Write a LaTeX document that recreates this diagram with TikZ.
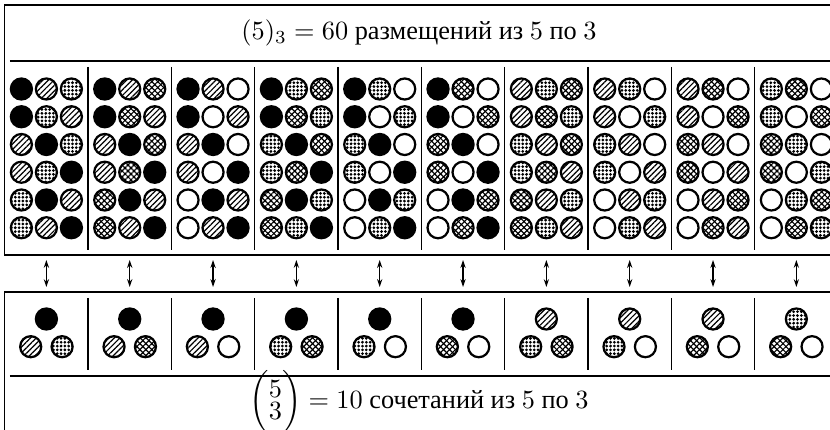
\documentclass[tikz,border=0pt]{standalone}
\usepackage{amsmath}
\usepackage{fontspec}
\setmainfont{Liberation Serif}
\usetikzlibrary{patterns.meta,arrows.meta}

\tikzset{
  ball/.style={draw, line width=0.85pt},
  blk/.style={ball, fill=black},
  hat/.style={ball, pattern={Lines[angle=45, distance=1.5pt, line width=0.45pt]}},
  pnt/.style={ball, pattern={Dots[distance=1.45pt, radius=0.58pt]}},
  chk/.style={ball, pattern={Lines[angle=45, distance=1.6pt, line width=0.45pt]},
    postaction={pattern={Lines[angle=-45, distance=1.6pt, line width=0.45pt]}}},
  wht/.style={ball, fill=white},
  frame/.style={line width=0.5pt},
  sep/.style={line width=0.45pt},
  pair/.style={line width=0.45pt, {Stealth[length=3pt, width=2pt]}-{Stealth[length=3pt, width=2pt]}},
}

\begin{document}
\begin{tikzpicture}[x=0.38pt, y=-0.38pt]
    \useasboundingbox (0, 0) rectangle (830, 430);
    \clip (0, 0) rectangle (830, 430);

    % arrangements
    \draw[frame] (4.5, 5) rectangle (845, 255);
    \node (perms) at (419, 33) {$(5)_3 = 60$ размещений из $5$ по $3$};
    \draw[sep] (10, 61) -- (840, 61);

    % combinations
    \draw[frame] (4.5, 292) rectangle (845, 440);
    \draw[sep] (10, 376) -- (840, 376);
    \node (combs) at (419, 402)
        {$\left(\begin{array}{@{}c@{}}5\\[-3.5pt]3\end{array}\right) = 10$ сочетаний из $5$ по $3$};

    \foreach \one/\two/\three [count=\k from 0] in {blk/hat/pnt, blk/hat/chk, blk/hat/wht,
        blk/pnt/chk, blk/pnt/wht, blk/chk/wht, hat/pnt/chk, hat/pnt/wht, hat/chk/wht, pnt/chk/wht} {
        \pgfmathsetmacro\cx{46.4 + 83.33*\k}
        \pgfmathsetmacro\sx{4.7 + 83.33*\k}
        \ifnum\k>0
            \draw[sep] (\sx, 67) -- (\sx, 250);
            \draw[sep] (\sx, 298) -- (\sx, 370);
        \fi
        \edef\rows{\one/\two/\three, \one/\three/\two, \two/\one/\three,
            \two/\three/\one, \three/\one/\two, \three/\two/\one}
        \foreach \pa/\pb/\pc [count=\row from 0] in \rows {
            \pgfmathsetmacro\ry{89 + 27.75*\row}
            \draw[\pa] (\cx - 25, \ry) circle (4pt);
            \draw[\pb] (\cx, \ry) circle (4pt);
            \draw[\pc] (\cx + 25, \ry) circle (4pt);
        }
        \draw[\one] (\cx, 319) circle (4pt);
        \draw[\two] (\cx - 15.7, 346.7) circle (4pt);
        \draw[\three] (\cx + 15.7, 346.7) circle (4pt);

        \coordinate (p\k) at (\cx, 260);
        \coordinate (c\k) at (\cx, 287);
        \draw[pair] (p\k) -- (c\k);
    }
\end{tikzpicture}
\end{document}
